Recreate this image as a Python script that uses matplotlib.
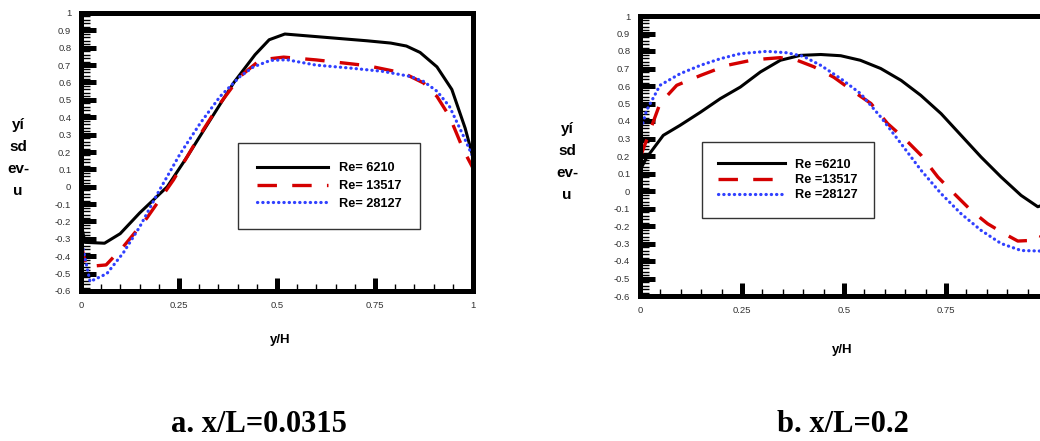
import numpy as np
import matplotlib
matplotlib.use("Agg")
import matplotlib.pyplot as plt
from matplotlib.ticker import MultipleLocator, FixedLocator

plt.rcParams['font.family'] = ['Liberation Sans', 'DejaVu Sans']
plt.rcParams['lines.scale_dashes'] = False

W, H = 1040, 441

# station a: x/L = 0.0315
a_y_6210 = [0, 0.01, 0.06, 0.10, 0.15, 0.22, 0.27, 0.32, 0.39, 0.444, 0.48, 0.52,
            0.644, 0.73, 0.79, 0.83, 0.865, 0.908, 0.946, 0.98, 1.0]
a_u_6210 = [-0.21, -0.32, -0.325, -0.27, -0.15, 0.0, 0.17, 0.35, 0.6, 0.76, 0.846, 0.879,
            0.856, 0.84, 0.827, 0.81, 0.773, 0.69, 0.56, 0.337, 0.17]
a_y_13517 = [0, 0.013, 0.064, 0.108, 0.168, 0.236, 0.304, 0.355, 0.406, 0.457, 0.517,
             0.6, 0.73, 0.823, 0.874, 0.908, 0.94, 0.976, 1.0]
a_u_13517 = [-0.325, -0.46, -0.45, -0.345, -0.18, 0.04, 0.3, 0.48, 0.635, 0.73, 0.746,
             0.73, 0.697, 0.654, 0.597, 0.52, 0.405, 0.21, 0.107]
a_y_28127 = [0, 0.023, 0.066, 0.108, 0.15, 0.2, 0.253, 0.304, 0.355, 0.406, 0.44, 0.483,
             0.525, 0.6, 0.687, 0.77, 0.84, 0.874, 0.908, 0.94, 0.976, 1.0]
a_u_28127 = [-0.3, -0.546, -0.5, -0.38, -0.23, -0.02, 0.19, 0.365, 0.52, 0.635, 0.69, 0.727,
             0.731, 0.70, 0.683, 0.664, 0.635, 0.606, 0.55, 0.462, 0.29, 0.17]

# station b: x/L = 0.2
b_y_6210 = [0, 0.016, 0.057, 0.098, 0.148, 0.197, 0.246, 0.295, 0.344, 0.393, 0.443, 0.492,
            0.54, 0.59, 0.64, 0.688, 0.738, 0.787, 0.836, 0.885, 0.934, 0.975, 1.0]
b_u_6210 = [0.118, 0.19, 0.318, 0.375, 0.45, 0.528, 0.594, 0.68, 0.747, 0.775, 0.78, 0.773,
            0.747, 0.70, 0.632, 0.547, 0.442, 0.318, 0.194, 0.08, -0.025, -0.09, -0.07]
b_y_13517 = [0, 0.016, 0.049, 0.09, 0.148, 0.213, 0.279, 0.344, 0.385, 0.426, 0.475, 0.525,
             0.566, 0.607, 0.648, 0.689, 0.73, 0.77, 0.811, 0.852, 0.893, 0.926, 0.98, 1.0]
b_u_13517 = [0.19, 0.29, 0.5, 0.604, 0.66, 0.718, 0.75, 0.762, 0.747, 0.71, 0.65, 0.566,
             0.5, 0.385, 0.30, 0.204, 0.08, -0.015, -0.11, -0.187, -0.244, -0.286, -0.28, -0.1]
b_y_28127 = [0, 0.016, 0.049, 0.098, 0.148, 0.197, 0.246, 0.311, 0.36, 0.4, 0.443, 0.492,
             0.541, 0.59, 0.64, 0.689, 0.738, 0.787, 0.836, 0.885, 0.934, 0.98, 1.0]
b_u_28127 = [0.33, 0.46, 0.604, 0.67, 0.718, 0.756, 0.785, 0.798, 0.79, 0.77, 0.718, 0.642,
             0.556, 0.423, 0.27, 0.118, -0.015, -0.13, -0.225, -0.30, -0.34, -0.343, -0.3]

x_ticks = [0, 0.25, 0.5, 0.75, 1]
x_tick_labels_a = ['0', '0.25', '0.5', '0.75', '1']
x_tick_labels_b = ['0', '0.25', '0.5', '0.75', '']   # the last one falls off the page
y_ticks = np.round(np.arange(-0.6, 1.01, 0.1), 1)

labels_a = ['Re= 6210', 'Re= 13517', 'Re= 28127']
labels_b = ['Re =6210', 'Re =13517', 'Re =28127']
captions = ['a. x/L=0.0315', 'b. x/L=0.2']

styles = [
    dict(color='black', lw=2.2, ls='-'),
    dict(color='#d40000', lw=2.4, ls=(0, (14, 11)), dash_capstyle='butt'),
    dict(color='#3040ff', lw=2.3, ls=(0, (0.2, 3.6)), dash_capstyle='round'),
]


def px_box(left, top, right, bottom):
    return [left / W, 1 - bottom / H, (right - left) / W, (bottom - top) / H]


def fmt(v):
    return '0' if abs(v) < 1e-9 else '%g' % v


def setup_axes(ax, xlabels):
    ax.set_xlim(0, 1)
    ax.set_ylim(-0.6, 1)
    for s in ax.spines.values():
        s.set_linewidth(3.6)
    ax.xaxis.set_major_locator(FixedLocator(x_ticks))
    ax.set_xticklabels(xlabels)
    ax.xaxis.set_minor_locator(MultipleLocator(0.05))
    ax.yaxis.set_major_locator(FixedLocator(y_ticks))
    ax.set_yticklabels([fmt(v) for v in y_ticks])
    ax.yaxis.set_minor_locator(MultipleLocator(0.02))
    ax.tick_params(which='both', direction='in', top=False, right=False,
                   labelsize=6.8, labelcolor='#333333')
    ax.tick_params(axis='y', which='major', length=11, width=3.6, pad=7)
    ax.tick_params(axis='y', which='minor', length=6.5, width=1.0)
    ax.tick_params(axis='x', which='major', length=9.5, width=3.6, pad=7)
    ax.tick_params(axis='x', which='minor', length=5, width=1.0)


def draw_panel(ax, data, labels, xlabels, leg_center, leg_pad):
    handles = []
    for (xs, us), st in zip(data, styles):
        h, = ax.plot(xs, us, **st)
        handles.append(h)
    setup_axes(ax, xlabels)
    leg = ax.legend(handles, labels, loc='center',
                    bbox_to_anchor=(leg_center[0] / W, 1 - leg_center[1] / H),
                    bbox_transform=fig.transFigure,
                    prop=dict(family='Liberation Sans', weight='bold', size=9.2),
                    handlelength=leg_pad[0], handletextpad=0.8, labelspacing=leg_pad[1],
                    borderpad=leg_pad[2], fancybox=False, framealpha=1,
                    edgecolor='#333333')
    leg.get_frame().set_linewidth(1.0)
    return leg


fig = plt.figure(figsize=(W / 100, H / 100), dpi=100)

ax1 = fig.add_axes(px_box(81, 13, 473, 291))
draw_panel(ax1, [(a_y_6210, a_u_6210), (a_y_13517, a_u_13517), (a_y_28127, a_u_28127)],
           labels_a, x_tick_labels_a, (329, 186), (5.6, 0.45, 1.5))

ax2 = fig.add_axes(px_box(640, 16, 1048, 296))
draw_panel(ax2, [(b_y_6210, b_u_6210), (b_y_13517, b_u_13517), (b_y_28127, b_u_28127)],
           labels_b, x_tick_labels_b, (788, 180), (5.2, 0.25, 1.3))

# axis titles
for x, y in [(280, 340), (842, 350)]:
    fig.text(x / W, 1 - y / H, 'y/H', ha='center', va='center',
             fontsize=9.5, fontweight='bold')
for x, y in [(18, 158), (567, 162)]:
    fig.text(x / W, 1 - y / H, 'yí\nsd\nev-\nu', ha='center', va='center',
             fontsize=11, fontweight='bold', linespacing=1.75)

for x, s in [(259, captions[0]), (843, captions[1])]:
    fig.text(x / W, 1 - 424 / H, s, ha='center', va='center',
             fontsize=22, fontweight='bold', family=['Liberation Serif', 'DejaVu Serif'])

fig.savefig('out.png', dpi=100)
